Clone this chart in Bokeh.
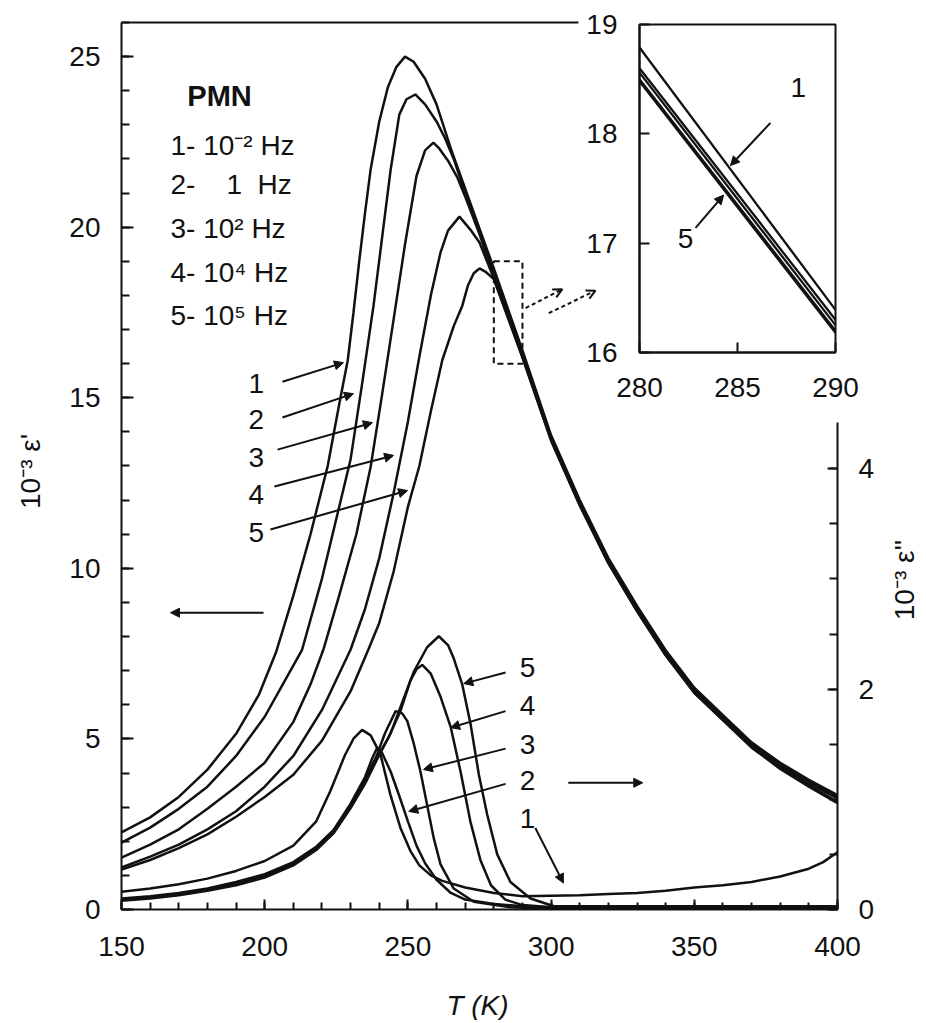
import math
from bokeh.plotting import figure
from bokeh.models import (Range1d, LinearAxis, SingleIntervalTicker, FixedTicker,
                          BoxAnnotation, Arrow, NormalHead, OpenHead, Label)
from bokeh.embed import file_html
from bokeh.resources import INLINE

# ---------------- data: eps' (10^-3) vs T (K) ----------------
T1 = [150, 160, 170, 180, 190, 198, 204, 210, 216, 222, 226, 229, 231, 233, 235, 237, 240, 243, 246, 249,
      252, 256, 260, 265, 270, 275, 280, 285, 290, 300, 310, 320, 330, 340, 350, 360, 370, 380, 390, 400]
E1 = [2.26, 2.7, 3.3, 4.1, 5.15, 6.3, 7.55, 9.2, 11.0, 13.0, 14.8, 16.1, 17.5, 19.0, 20.4, 21.7, 23.1, 24.1, 24.7, 25.0,
      24.85, 24.35, 23.6, 22.3, 21.13, 19.96, 18.79, 17.59, 16.39, 13.9, 12.0, 10.3, 8.9, 7.6, 6.5, 5.7, 4.9, 4.3, 3.8, 3.35]

T2 = [150, 160, 170, 180, 190, 200, 207, 213, 220, 226, 230, 234, 238, 241, 244, 247, 249.5, 252.6, 256, 260,
      263, 266, 270, 275, 280, 285, 290, 300, 310, 320, 330, 340, 350, 360, 370, 380, 390, 400]
E2 = [1.96, 2.4, 2.95, 3.6, 4.5, 5.65, 6.7, 7.6, 9.7, 11.8, 13.2, 15.4, 17.7, 19.7, 21.7, 23.3, 23.75, 23.89, 23.6, 23.1,
      22.6, 22.0, 21.0, 19.85, 18.6, 17.45, 16.3, 13.85, 11.95, 10.25, 8.85, 7.55, 6.45, 5.65, 4.85, 4.25, 3.75, 3.3]

T3 = [150, 160, 170, 180, 190, 200, 210, 216, 220.5, 226, 232, 237, 241, 245, 249, 253, 256, 258.9, 261, 264,
      267.3, 270, 275, 280, 285, 290, 300, 310, 320, 330, 340, 350, 360, 370, 380, 390, 400]
E3 = [1.52, 1.9, 2.35, 2.95, 3.6, 4.3, 5.5, 6.6, 7.62, 9.2, 11.0, 12.98, 15.1, 17.29, 19.5, 21.5, 22.25, 22.48, 22.3, 21.95,
      21.45, 20.9, 19.8, 18.56, 17.4, 16.25, 13.8, 11.9, 10.2, 8.8, 7.5, 6.4, 5.6, 4.8, 4.2, 3.7, 3.25]

T4 = [150, 160, 170, 180, 190, 200, 210, 220, 230, 235, 240, 245, 250, 254, 258, 261.4, 264, 268, 271.8, 275,
      280, 285, 290, 300, 310, 320, 330, 340, 350, 360, 370, 380, 390, 400]
E4 = [1.23, 1.55, 1.9, 2.35, 2.88, 3.6, 4.5, 5.85, 7.62, 8.8, 10.3, 12.2, 14.3, 16.2, 18.0, 19.26, 19.9, 20.31, 19.93, 19.55,
      18.5, 17.35, 16.2, 13.75, 11.85, 10.15, 8.75, 7.45, 6.35, 5.55, 4.75, 4.15, 3.65, 3.15]

T5 = [150, 160, 170, 180, 190, 200, 210, 220, 230, 236.2, 240, 245, 250, 254, 258, 262, 266, 269, 271, 273,
      275, 277, 280, 285, 290, 300, 310, 320, 330, 340, 350, 360, 370, 380, 390, 400]
E5 = [1.17, 1.45, 1.8, 2.2, 2.72, 3.3, 3.95, 4.95, 6.4, 7.62, 8.4, 9.9, 11.8, 13.0, 14.6, 16.1, 17.1, 17.7, 18.3, 18.65,
      18.79, 18.7, 18.48, 17.33, 16.18, 13.75, 11.85, 10.15, 8.75, 7.45, 6.35, 5.55, 4.75, 4.12, 3.6, 3.12]

# ---------------- data: eps'' (10^-3) vs T (K) ----------------
F1_T = [150, 160, 170, 180, 190, 200, 210, 218, 223, 228, 231, 234, 237, 240.4, 243.9, 247.4, 250.9, 254, 258, 262,
        270, 280, 290, 300, 310, 320, 330, 340, 350, 360, 370, 380, 390, 395, 400]
F1 = [0.16, 0.19, 0.23, 0.28, 0.35, 0.44, 0.58, 0.8, 1.08, 1.4, 1.55, 1.63, 1.58, 1.41, 1.04, 0.74, 0.53, 0.4, 0.31, 0.26,
      0.2, 0.15, 0.12, 0.125, 0.13, 0.14, 0.15, 0.17, 0.2, 0.22, 0.25, 0.3, 0.37, 0.43, 0.52]

F2_T = [150, 160, 170, 180, 190, 200, 210, 218, 224, 230, 235, 237.5, 239.3, 241, 244, 247, 250, 253, 256, 260,
        265, 270, 280, 290, 300, 350, 400]
F2 = [0.1, 0.12, 0.15, 0.19, 0.25, 0.32, 0.43, 0.57, 0.72, 0.96, 1.2, 1.37, 1.47, 1.42, 1.25, 1.03, 0.8, 0.58, 0.42, 0.27,
      0.15, 0.09, 0.05, 0.03, 0.02, 0.02, 0.02]

F3_T = [150, 160, 170, 180, 190, 200, 210, 218, 224, 230, 235, 239, 242, 245.7, 248, 249.8, 252.1, 254.4, 256.7, 259,
        261.4, 266, 273, 286, 300, 350, 400]
F3 = [0.09, 0.11, 0.14, 0.18, 0.24, 0.31, 0.42, 0.56, 0.71, 0.95, 1.18, 1.39, 1.6, 1.8, 1.78, 1.71, 1.5, 1.25, 0.95, 0.65,
      0.41, 0.19, 0.07, 0.02, 0.01, 0.01, 0.01]

F4_T = [150, 160, 170, 180, 190, 200, 210, 218, 224, 230, 235, 239, 243, 247.4, 250.9, 253, 255, 258, 261.4, 264.9,
        268.4, 271.8, 275.3, 279, 284, 290, 300, 350, 400]
F4 = [0.09, 0.11, 0.14, 0.18, 0.23, 0.3, 0.41, 0.55, 0.7, 0.93, 1.16, 1.37, 1.55, 1.8, 2.08, 2.18, 2.22, 2.14, 1.93, 1.66,
      1.25, 0.8, 0.45, 0.22, 0.09, 0.04, 0.02, 0.02, 0.02]

F5_T = [150, 160, 170, 180, 190, 200, 210, 218, 224, 230, 235, 239, 244, 248.6, 252.1, 256.7, 260.8, 264, 266, 269,
        271.9, 274.8, 277.7, 281.2, 285.8, 292.8, 301, 350, 400]
F5 = [0.08, 0.1, 0.13, 0.17, 0.22, 0.29, 0.4, 0.54, 0.69, 0.92, 1.14, 1.35, 1.6, 1.92, 2.16, 2.38, 2.48, 2.4, 2.28, 2.04,
      1.68, 1.22, 0.86, 0.5, 0.25, 0.1, 0.03, 0.03, 0.03]

# ---------------- inset data (eps', 280-290 K) ----------------
IT = [280, 290]
I1 = [18.79, 16.39]
I2 = [18.60, 16.30]
I3 = [18.56, 16.25]
I4 = [18.50, 16.20]
I5 = [18.48, 16.18]

# ---------------- text ----------------
TITLE = "PMN"
LEGEND = ["1- 10\u207b\u00b2 Hz", "2-\u00a0\u00a0\u00a0\u00a01\u00a0\u00a0Hz", "3- 10\u00b2 Hz",
          "4- 10\u2074 Hz", "5- 10\u2075 Hz"]
CURVE_NAMES = ["1", "2", "3", "4", "5"]
YLABEL_L = "10\u207b\u00b3 \u03b5'"
YLABEL_R = "10\u207b\u00b3 \u03b5''"
XLABEL = "T (K)"

FONT = "Liberation Sans"
FS = "28px"
INK = "#111111"
LW = 2.5

# The frame covers the whole canvas; the axes are placed inside it at fixed locations.
p = figure(frame_width=924, frame_height=1020,
           x_range=Range1d(107.75, 430.38), y_range=Range1d(-3.254, 26.645),
           x_axis_location=None, y_axis_location=None,
           output_backend="svg", toolbar_location=None,
           min_border_left=0, min_border_right=0, min_border_top=0, min_border_bottom=0)
p.extra_y_ranges = {"e2": Range1d(-1.0074, 8.2494), "iy": Range1d(9.890, 19.2195)}
p.extra_x_ranges = {"ix": Range1d(247.398, 294.541)}
p.grid.visible = False
p.outline_line_color = None
p.background_fill_color = "white"
p.border_fill_color = "white"


def style_axis(ax, tick_in, minor_in, standoff):
    ax.axis_line_width = 2
    ax.axis_line_color = INK
    ax.major_tick_in = tick_in
    ax.major_tick_out = 0
    ax.minor_tick_in = minor_in
    ax.minor_tick_out = 0
    ax.major_tick_line_width = 2
    ax.minor_tick_line_width = 2
    ax.major_tick_line_color = INK
    ax.minor_tick_line_color = INK
    ax.major_label_text_font = FONT
    ax.major_label_text_font_size = FS
    ax.major_label_text_color = INK
    ax.major_label_standoff = standoff


xa = LinearAxis(fixed_location=0, bounds=(150, 400),
                ticker=SingleIntervalTicker(interval=50, num_minor_ticks=5))
style_axis(xa, 10, 7, 28)
p.add_layout(xa, "below")

ya = LinearAxis(fixed_location=150, bounds=(0, 26.0),
                ticker=SingleIntervalTicker(interval=5, num_minor_ticks=5))
style_axis(ya, 12, 8, 21)
p.add_layout(ya, "left")

ra = LinearAxis(y_range_name="e2", fixed_location=400, bounds=(0, 4.42),
                ticker=SingleIntervalTicker(interval=2, num_minor_ticks=4))
style_axis(ra, 10, 8, 21)
p.add_layout(ra, "right")

ta = LinearAxis(fixed_location=26.0, bounds=(150, 309.6), ticker=FixedTicker(ticks=[]))
ta.axis_line_width = 2
ta.axis_line_color = INK
ta.major_tick_line_color = None
ta.minor_tick_line_color = None
ta.major_label_text_font_size = "0px"
ta.major_label_standoff = 0
p.add_layout(ta, "above")

# inset axes
iay = LinearAxis(x_range_name="ix", y_range_name="iy", fixed_location=280, bounds=(16, 19),
                 ticker=FixedTicker(ticks=[16, 17, 18, 19]))
style_axis(iay, 10, 0, 22)
p.add_layout(iay, "left")
iax = LinearAxis(x_range_name="ix", y_range_name="iy", fixed_location=16, bounds=(280, 290),
                 ticker=FixedTicker(ticks=[280, 285, 290]))
style_axis(iax, 10, 0, 26)
p.add_layout(iax, "below")
p.add_layout(BoxAnnotation(left=280, right=290, bottom=16, top=19, x_range_name="ix", y_range_name="iy",
                           fill_color=None, fill_alpha=0, line_color=INK, line_alpha=1.0, line_width=2))

# curves
for T, E in ((T1, E1), (T2, E2), (T3, E3), (T4, E4), (T5, E5)):
    p.line(T, E, line_color=INK, line_width=LW)
for T, F in ((F1_T, F1), (F2_T, F2), (F3_T, F3), (F4_T, F4), (F5_T, F5)):
    p.line(T, F, y_range_name="e2", line_color=INK, line_width=LW)
for I in (I1, I2, I3, I4, I5):
    p.line(IT, I, x_range_name="ix", y_range_name="iy", line_color=INK, line_width=2.3)


def lab(x, y, text, size=FS, align="left", baseline="alphabetic", style="normal", angle=0.0,
        xr="default", yr="default"):
    p.add_layout(Label(x=x, y=y, text=text, text_font=FONT, text_font_size=size, text_font_style=style,
                       text_align=align, text_baseline=baseline, text_color=INK, angle=angle,
                       x_range_name=xr, y_range_name=yr))


def arr(x0, y0, x1, y1, xr="default", yr="default", dash="solid", open_head=False):
    if open_head:
        head = OpenHead(size=9, line_color=INK, line_width=2)
    else:
        head = NormalHead(size=9, fill_color=INK, line_color=INK, line_width=1)
    p.add_layout(Arrow(x_start=x0, y_start=y0, x_end=x1, y_end=y1, end=head, line_color=INK,
                       line_width=2, line_dash=dash, x_range_name=xr, y_range_name=yr))


# legend block
lab(173.0, 23.86, TITLE, size="29px", style="bold")
for txt, yy in zip(LEGEND, [22.39, 21.25, 19.96, 18.67, 17.41]):
    lab(167.1, yy, txt)

# eps' curve labels + arrows
for name, yy in zip(CURVE_NAMES, [15.42, 14.36, 13.25, 12.16, 11.05]):
    lab(197.1, yy, name, align="center", baseline="middle")
arr(206.2, 15.47, 227.5, 16.03)
arr(206.2, 14.42, 231.0, 15.12)
arr(204.5, 13.48, 237.6, 14.27)
arr(203.4, 12.40, 245.0, 13.31)
arr(202.0, 11.14, 249.9, 12.28)
arr(199.6, 8.70, 167.1, 8.70)

# eps'' curve labels + arrows
for name, yy in zip(["5", "4", "3", "2", "1"], [2.2, 1.85, 1.5, 1.17, 0.83]):
    lab(291.8, yy, name, align="center", baseline="middle", yr="e2")
arr(284.1, 2.15, 269.5, 2.05, yr="e2")
arr(284.1, 1.80, 264.9, 1.65, yr="e2")
arr(284.1, 1.46, 255.4, 1.27, yr="e2")
arr(284.1, 1.14, 250.3, 0.89, yr="e2")
arr(294.5, 0.74, 304.3, 0.24, yr="e2")
arr(306.0, 1.15, 332.0, 1.15, yr="e2")

# zoom box and dashed arrows
p.add_layout(BoxAnnotation(left=280, right=290, bottom=16, top=19, fill_color=None, fill_alpha=0,
                           line_color=INK, line_alpha=1.0, line_width=2, line_dash="6 4"))
arr(291.1, 17.63, 303.9, 18.18, dash="4 3", open_head=True)
arr(299.2, 17.48, 315.5, 18.14, dash="4 3", open_head=True)

# inset annotations
lab(288.1, 18.42, "1", align="center", baseline="middle", xr="ix", yr="iy")
arr(286.68, 18.10, 284.64, 17.71, xr="ix", yr="iy")
lab(282.35, 17.04, "5", align="center", baseline="middle", xr="ix", yr="iy")
arr(282.86, 17.14, 284.29, 17.44, xr="ix", yr="iy")

# axis titles
lab(118.2, 12.84, YLABEL_L, align="center", baseline="middle", angle=math.pi / 2)
lab(423.4, 2.99, YLABEL_R, align="center", baseline="middle", angle=math.pi / 2, yr="e2")
lab(274.3, -2.81, XLABEL, align="center", baseline="middle", style="italic")

open("out.html", "w").write(file_html(p, INLINE))
